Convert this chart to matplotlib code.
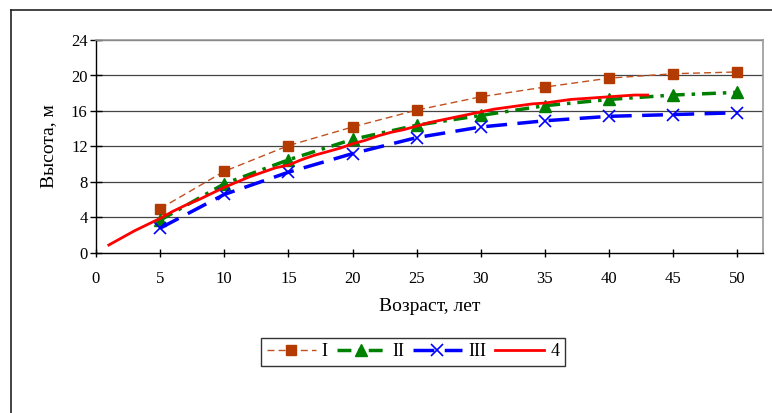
import matplotlib
matplotlib.use('Agg')
import matplotlib.pyplot as plt
from matplotlib.lines import Line2D

plt.rcParams['font.family'] = ['Liberation Serif', 'DejaVu Serif']

# data
age = [5, 10, 15, 20, 25, 30, 35, 40, 45, 50]
h_I = [5.0, 9.2, 12.1, 14.2, 16.1, 17.6, 18.7, 19.7, 20.2, 20.4]
h_II = [3.7, 7.8, 10.5, 12.8, 14.4, 15.5, 16.6, 17.3, 17.8, 18.1]
h_III = [2.8, 6.6, 9.1, 11.2, 13.0, 14.2, 14.9, 15.4, 15.6, 15.8]

age4 = list(range(1, 44))
h_4 = [0.9, 1.7, 2.5, 3.2, 3.9, 4.7, 5.4, 6.0, 6.7, 7.4,
       8.0, 8.6, 9.1, 9.6, 9.9, 10.5, 11.0, 11.4, 11.8, 12.3,
       12.7, 13.2, 13.6, 13.9, 14.3, 14.7, 15.0, 15.3, 15.6, 15.9,
       16.2, 16.4, 16.6, 16.8, 16.9, 17.1, 17.3, 17.4, 17.5, 17.6,
       17.7, 17.8, 17.8]

labels = ['I', 'II', 'III', '4']
xticks = list(range(0, 51, 5))
yticks = list(range(0, 25, 4))

W, H = 772, 413
fig = plt.figure(figsize=(W / 100, H / 100), dpi=100)
ax = fig.add_axes([96 / W, 1 - 253 / H, (763 - 96) / W, (253 - 40) / H])

# outer frame (only left and top edges visible)
fig.add_artist(Line2D([11 / W, 11 / W], [1 - 10 / H, 0], color='#222222', lw=1.2,
                      transform=fig.transFigure))
fig.add_artist(Line2D([11 / W, 1], [1 - 10 / H, 1 - 10 / H], color='#222222', lw=1.2,
                      transform=fig.transFigure))

for t in yticks[1:]:
    ax.axhline(t, color='#444444', lw=0.9, zorder=0)

l1, = ax.plot(age, h_I, color='#C0501E', lw=1.0, dashes=(5, 3),
              marker='s', markersize=6.5, markerfacecolor='#B33A00',
              markeredgecolor='#B33A00', label=labels[0])
l2, = ax.plot(age, h_II, color='#008000', lw=2.5, dashes=(4, 2, 1, 2),
              marker='^', markersize=8, markerfacecolor='#008000',
              markeredgecolor='#008000', label=labels[1])
l3, = ax.plot(age, h_III, color='#0000FF', lw=2.5, dashes=(6, 3),
              marker='x', markersize=8, markeredgewidth=1.2, label=labels[2])
l4, = ax.plot(age4, h_4, color='#FF0000', lw=2.0, label=labels[3])

ax.set_xlim(0, 52)
ax.set_ylim(0, 24)
ax.set_xticks(xticks)
ax.set_yticks(yticks)
ax.tick_params(axis='y', direction='inout', length=8, width=1, labelsize=12, pad=2)
ax.tick_params(axis='x', direction='inout', length=6, width=1, labelsize=12, pad=10)

for s in ['top', 'right']:
    ax.spines[s].set_color('#999999')
    ax.spines[s].set_linewidth(1.2)
for s in ['left', 'bottom']:
    ax.spines[s].set_color('black')
    ax.spines[s].set_linewidth(1.0)

ax.set_ylabel('Высота, м', fontsize=14, labelpad=10)
ax.set_xlabel('Возраст, лет', fontsize=14, labelpad=8)

leg = fig.legend(handles=[l1, l2, l3, l4], loc='center',
                 bbox_to_anchor=(413 / W, 1 - 352 / H), ncol=4, fontsize=13,
                 frameon=True, fancybox=False, edgecolor='black',
                 handlelength=2.7, handletextpad=0.35, columnspacing=0.5,
                 borderpad=0.3, borderaxespad=0)
leg.get_frame().set_linewidth(1.0)

fig.savefig('out.png', dpi=100)
